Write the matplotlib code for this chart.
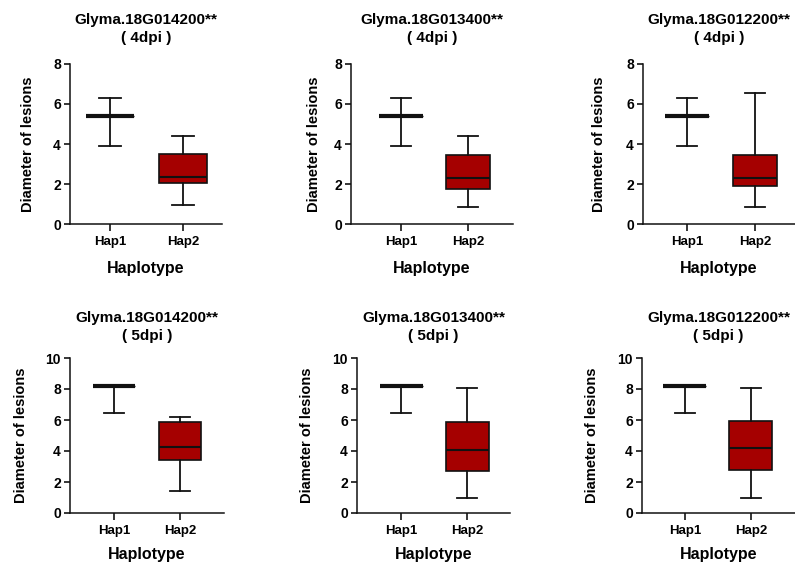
import matplotlib.pyplot as plt

plt.rcParams['font.family'] = ['Liberation Sans', 'DejaVu Sans']
plt.rcParams['font.weight'] = 'bold'

genes = ['Glyma.18G014200**', 'Glyma.18G013400**', 'Glyma.18G012200**']
stages = ['4dpi', '5dpi']
haps = ['Hap1', 'Hap2']

# box stats per panel: (whislo, q1, med, q3, whishi)
hap1_4dpi = (3.9, 5.4, 5.4, 5.4, 6.3)
hap1_5dpi = (6.45, 8.2, 8.2, 8.2, 8.2)
hap2_4dpi = [(0.95, 2.05, 2.35, 3.5, 4.4),
             (0.85, 1.75, 2.3, 3.45, 4.4),
             (0.85, 1.9, 2.3, 3.45, 6.55)]
hap2_5dpi = [(1.4, 3.45, 4.25, 5.85, 6.2),
             (1.0, 2.7, 4.05, 5.85, 8.05),
             (1.0, 2.75, 4.2, 5.95, 8.05)]
ymax = {'4dpi': 8, '5dpi': 10}
ystep = 2

# axes placement in pixels (left, right, top, bottom) and x limits
W, H = 795, 564
boxes_px = [[(70, 222, 64, 224), (351, 513, 64, 224), (643, 795, 64, 224)],
            [(70, 224, 358, 513), (357, 510, 358, 513), (642, 795, 358, 513)]]
xlims = [[(0.452, 2.534), (0.254, 2.672), (0.353, 2.59)],
         [(0.333, 2.667), (0.333, 2.65), (0.35, 2.67)]]
ylabel_pads = [[13, 9.5, 14.5], [12.5, 13.5, 13.5]]

RED = '#A50000'


def stat(v, label):
    return {'whislo': v[0], 'q1': v[1], 'med': v[2], 'q3': v[3],
            'whishi': v[4], 'fliers': [], 'label': label}


fig = plt.figure(figsize=(W / 100, H / 100), dpi=100)

for r, stage in enumerate(stages):
    h1 = hap1_4dpi if stage == '4dpi' else hap1_5dpi
    h2list = hap2_4dpi if stage == '4dpi' else hap2_5dpi
    for c, gene in enumerate(genes):
        l, rr, t, b = boxes_px[r][c]
        ax = fig.add_axes([l / W, 1 - b / H, (rr - l) / W, (b - t) / H])
        common = dict(widths=0.65, capwidths=0.3, patch_artist=True,
                      showfliers=False, manage_ticks=False,
                      whiskerprops=dict(color='#111111', lw=1.3),
                      capprops=dict(color='#111111', lw=1.3))
        ax.bxp([stat(h1, haps[0])], positions=[1],
               boxprops=dict(facecolor='white', edgecolor='#111111', lw=1.0),
               medianprops=dict(color='#111111', lw=3.0, solid_capstyle='butt'),
               **common)
        ax.bxp([stat(h2list[c], haps[1])], positions=[2],
               boxprops=dict(facecolor=RED, edgecolor='#111111', lw=1.2),
               medianprops=dict(color='#111111', lw=1.5, solid_capstyle='butt'),
               **common)
        ax.set_xlim(*xlims[r][c])
        ax.set_ylim(0, ymax[stage])
        ax.set_yticks(range(0, ymax[stage] + 1, ystep))
        ax.set_xticks([1, 2])
        ax.set_xticklabels(haps, fontsize=9.5, fontweight='bold')
        ax.tick_params(axis='y', labelsize=10, length=4, width=1.1, pad=2.5)
        ax.tick_params(axis='x', length=5, width=1.1, pad=3.5)
        for lab in ax.get_yticklabels():
            lab.set_fontweight('bold')
        for s in ['top', 'right']:
            ax.spines[s].set_visible(False)
        for s in ['left', 'bottom']:
            ax.spines[s].set_linewidth(1.1)
            ax.spines[s].set_color('#111111')
        ax.set_ylabel('Diameter of lesions', fontsize=10.5, fontweight='bold',
                      labelpad=ylabel_pads[r][c])
        ax.set_xlabel('Haplotype', fontsize=11.5, fontweight='bold',
                      labelpad=9.5 if stage == '4dpi' else 7)
        ax.set_title(gene + '\n( ' + stage + ' )', fontsize=11,
                     fontweight='bold', linespacing=1.35,
                     pad=16 if stage == '4dpi' else 13)

fig.savefig('out.png', dpi=100)
